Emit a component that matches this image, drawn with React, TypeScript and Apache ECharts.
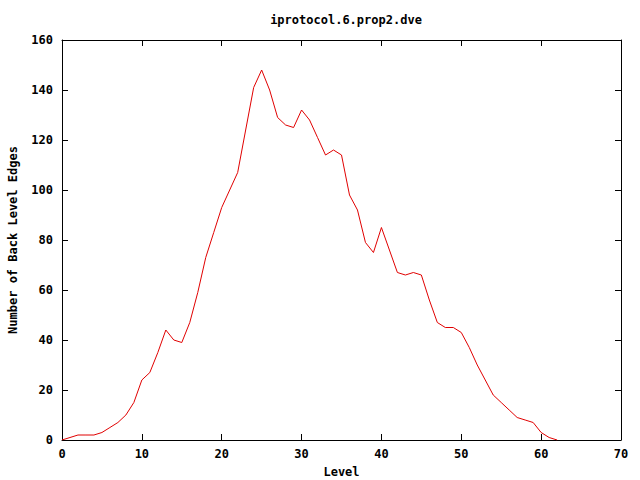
import React, { useEffect, useRef } from "react";
import * as echarts from "echarts";

const title = "iprotocol.6.prop2.dve";
const xName = "Level";
const yName = "Number of Back Level Edges";

const levels = [
  0, 1, 2, 3, 4, 5, 6, 7, 8, 9, 10, 11, 12, 13, 14, 15, 16, 17, 18, 19, 20,
  21, 22, 23, 24, 25, 26, 27, 28, 29, 30, 31, 32, 33, 34, 35, 36, 37, 38, 39,
  40, 41, 42, 43, 44, 45, 46, 47, 48, 49, 50, 51, 52, 53, 54, 55, 56, 57, 58,
  59, 60, 61, 62,
];
const edges = [
  0, 1, 2, 2, 2, 3, 5, 7, 10, 15, 24, 27, 35, 44, 40, 39, 47, 59, 73, 83, 93,
  100, 107, 124, 141, 148, 140, 129, 126, 125, 132, 128, 121, 114, 116, 114,
  98, 92, 79, 75, 85, 76, 67, 66, 67, 66, 56, 47, 45, 45, 43, 37, 30, 24, 18,
  15, 12, 9, 8, 7, 3, 1, 0,
];

const FONT = "DejaVu Sans Mono";

export default function App() {
  const ref = useRef<HTMLDivElement>(null);
  useEffect(() => {
    if (!ref.current) return;
    const chart = echarts.init(ref.current, undefined, { renderer: "svg" });
    const labelStyle = {
      color: "#000",
      fontFamily: FONT,
      fontWeight: "bold" as const,
      fontSize: 12,
    };
    const axisLine = () => ({ show: true, onZero: false, lineStyle: { color: "#000", width: 1 } });
    const tick = () => ({ show: true, inside: true, length: 6, lineStyle: { color: "#000" } });
    chart.setOption({
      animation: false,
      backgroundColor: "#fff",
      title: {
        text: title,
        left: 341,
        top: 9,
        textAlign: "center",
        textStyle: { ...labelStyle },
      },
      grid: {
        left: 62,
        right: 19,
        top: 40,
        bottom: 40,
        containLabel: false,
        outerBoundsMode: "none",
      },
      xAxis: [
        {
          type: "value",
          min: 0,
          max: 70,
          interval: 10,
          position: "bottom",
          name: xName,
          nameLocation: "middle",
          nameGap: 26,
          nameTextStyle: { ...labelStyle },
          axisLine: axisLine(),
          axisTick: tick(),
          axisLabel: { ...labelStyle, margin: 8 },
          splitLine: { show: false },
        },
        {
          type: "value",
          min: 0,
          max: 70,
          interval: 10,
          position: "top",
          axisLine: axisLine(),
          axisTick: tick(),
          axisLabel: { show: false },
          splitLine: { show: false },
        },
      ],
      yAxis: [
        {
          type: "value",
          min: 0,
          max: 160,
          interval: 20,
          position: "left",
          name: yName,
          nameLocation: "middle",
          nameGap: 43,
          nameRotate: 90,
          nameTextStyle: { ...labelStyle },
          axisLine: axisLine(),
          axisTick: tick(),
          axisLabel: { ...labelStyle, margin: 9 },
          splitLine: { show: false },
        },
        {
          type: "value",
          min: 0,
          max: 160,
          interval: 20,
          position: "right",
          axisLine: axisLine(),
          axisTick: tick(),
          axisLabel: { show: false },
          splitLine: { show: false },
        },
      ],
      series: [
        {
          type: "line",
          data: levels.map((l, i) => [l, edges[i]]),
          showSymbol: false,
          symbol: "none",
          lineStyle: { color: "#e00000", width: 1 },
          itemStyle: { color: "#e00000" },
        },
      ],
    });
    return () => chart.dispose();
  }, []);
  return (
    <div
      ref={ref}
      style={{ position: "fixed", left: 0, top: 0, width: 640, height: 480 }}
    />
  );
}
